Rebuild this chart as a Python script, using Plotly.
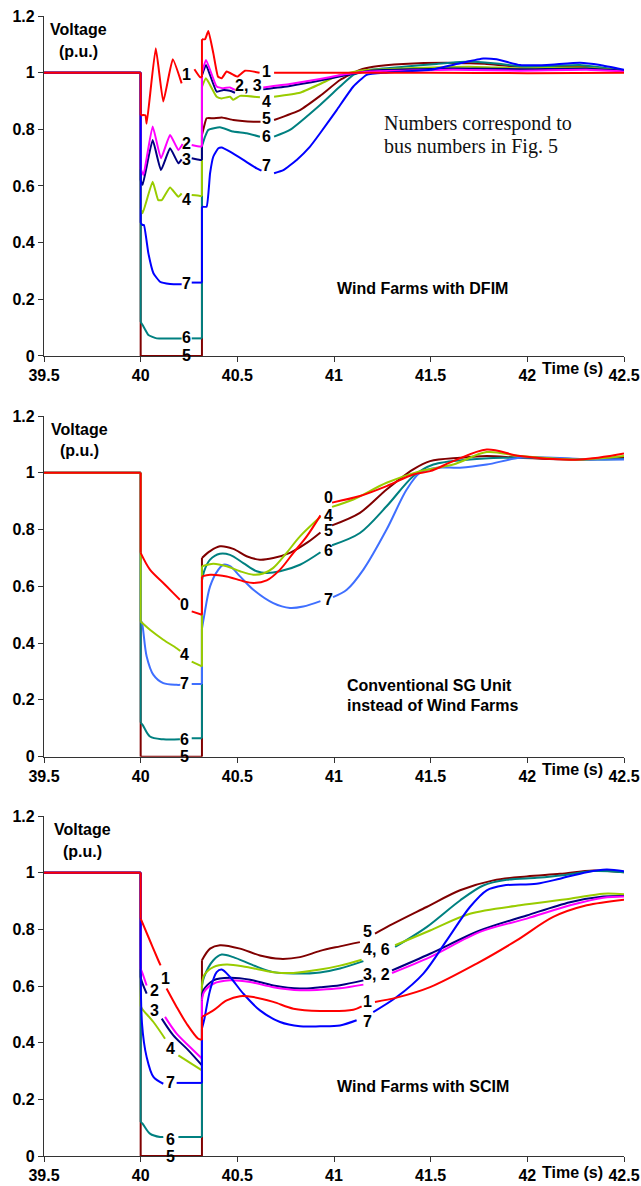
import plotly.graph_objects as go

# ---------------- Panel 1 : Wind Farms with DFIM ----------------
dfim_t1 = [39.5, 40.0, 40.0, 40.024, 40.031, 40.078, 40.117, 40.166, 40.212, None, 40.278, 40.307, 40.317, 40.317, 40.333, 40.35, 40.376, 40.40, 40.419, 40.445, 40.48, 40.5, 40.54, 40.615, None, 40.69, 41.0, 41.5, 42.0, 42.5]
dfim_v1 = [1.0, 1.0, 0.85, 0.85, 0.82, 1.086, 0.898, 1.047, 0.962, None, 1.012, 0.984, 0.984, 1.118, 1.118, 1.147, 1.068, 0.986, 0.98, 1.004, 0.992, 0.986, 1.007, 1.0, None, 1.0, 1.0, 1.0, 0.998, 1.0]
dfim_t2 = [39.5, 40.0, 40.0, 40.014, 40.062, 40.105, 40.152, 40.195, 40.217, None, 40.264, 40.307, 40.317, 40.317, 40.338, 40.393, 40.428, 40.462, 40.488, None, 40.634, 40.772, 40.928, 41.066, 41.186, 41.617, 41.962, 42.307, 42.5]
dfim_v2 = [1.0, 1.0, 0.66, 0.639, 0.81, 0.698, 0.78, 0.727, 0.748, None, 0.745, 0.739, 0.739, 1.0, 1.045, 0.951, 0.945, 0.948, 0.939, None, 0.948, 0.96, 0.978, 0.995, 1.004, 1.01, 1.007, 1.01, 1.004]
dfim_t3 = [39.5, 40.0, 40.0, 40.01, 40.062, 40.105, 40.152, 40.195, 40.212, None, 40.264, 40.307, 40.317, 40.317, 40.338, 40.393, 40.428, 40.462, 40.488, None, 40.634, 40.772, 40.928, 41.066, 41.186, 41.617, 41.962, 42.307, 42.5]
dfim_v3 = [1.0, 1.0, 0.62, 0.604, 0.762, 0.656, 0.733, 0.68, 0.694, None, 0.698, 0.692, 0.692, 0.99, 1.027, 0.933, 0.939, 0.936, 0.929, None, 0.941, 0.953, 0.972, 0.992, 1.007, 1.015, 1.012, 1.015, 1.007]
dfim_t4 = [39.5, 40.0, 40.0, 40.01, 40.062, 40.091, 40.109, 40.152, 40.195, 40.212, None, 40.264, 40.307, 40.317, 40.317, 40.338, 40.393, 40.419, 40.462, 40.479, 40.514, 40.617, None, 40.69, 40.824, 40.928, 41.031, 41.134, 41.359, 41.703, 41.962, 42.272, 42.5]
dfim_v4 = [1.0, 1.0, 0.52, 0.504, 0.615, 0.55, 0.55, 0.595, 0.562, 0.574, None, 0.568, 0.565, 0.565, 0.95, 0.98, 0.915, 0.909, 0.915, 0.904, 0.918, 0.913, None, 0.915, 0.929, 0.96, 0.992, 1.007, 1.015, 1.021, 1.015, 1.018, 1.007]
dfim_t5 = [39.5, 40.0, 40.0, 40.317, 40.317, 40.328, 40.341, 40.376, 40.419, 40.479, 40.583, 40.62, None, 40.69, 40.824, 40.928, 41.031, 41.134, 41.203, 41.359, 41.583, 41.703, 41.79, 41.962, 42.272, 42.5]
dfim_v5 = [1.0, 1.0, 0.0, 0.0, 0.78, 0.81, 0.839, 0.839, 0.842, 0.833, 0.827, 0.827, None, 0.833, 0.868, 0.918, 0.974, 1.01, 1.021, 1.031, 1.035, 1.033, 1.031, 1.021, 1.023, 1.007]
dfim_t6 = [39.5, 40.0, 40.0, 40.01, 40.04, 40.083, 40.212, None, 40.264, 40.317, 40.317, 40.333, 40.35, 40.41, 40.479, 40.548, 40.617, None, 40.69, 40.772, 40.928, 41.031, 41.1, 41.186, 41.359, 41.531, 41.703, 41.824, 41.997, 42.272, 42.5]
dfim_v6 = [1.0, 1.0, 0.12, 0.109, 0.074, 0.062, 0.062, None, 0.062, 0.062, 0.74, 0.774, 0.798, 0.807, 0.792, 0.786, 0.774, None, 0.774, 0.798, 0.886, 0.951, 0.992, 1.01, 1.021, 1.031, 1.039, 1.033, 1.021, 1.027, 1.007]
dfim_t7 = [39.5, 40.0, 40.0, 40.01, 40.017, 40.04, 40.066, 40.1, 40.152, 40.212, None, 40.264, 40.317, 40.317, 40.341, 40.359, 40.376, 40.402, 40.419, 40.462, 40.531, 40.6, 40.625, None, 40.69, 40.738, 40.807, 40.876, 40.928, 41.014, 41.1, 41.169, 41.27, 41.497, 41.652, 41.772, 41.841, 41.962, 42.1, 42.272, 42.376, 42.5]
dfim_v7 = [1.0, 1.0, 0.47, 0.462, 0.462, 0.362, 0.292, 0.262, 0.254, 0.253, None, 0.259, 0.259, 0.527, 0.527, 0.645, 0.704, 0.733, 0.736, 0.721, 0.692, 0.662, 0.654, None, 0.645, 0.656, 0.692, 0.739, 0.786, 0.868, 0.951, 0.992, 1.0, 1.01, 1.033, 1.05, 1.047, 1.027, 1.027, 1.035, 1.027, 1.01]

# ---------------- Panel 2 : Conventional SG unit ----------------
sg_t0 = [39.5, 40.0, 40.0, 40.048, 40.117, 40.169, 40.203, None, 40.264, 40.317, 40.317, 40.359, 40.445, 40.531, 40.583, 40.652, 40.721, 40.79, 40.859, 40.93, None, 40.99, 41.134, 41.272, 41.41, 41.497, 41.617, 41.79, 41.962, 42.272, 42.5]
sg_v0 = [1.0, 1.0, 0.718, 0.659, 0.612, 0.576, 0.553, None, 0.512, 0.5, 0.635, 0.641, 0.635, 0.618, 0.612, 0.621, 0.659, 0.718, 0.776, 0.85, None, 0.895, 0.918, 0.953, 0.994, 1.006, 1.041, 1.082, 1.059, 1.047, 1.068]
sg_t4 = [39.5, 40.0, 40.0, 40.048, 40.117, 40.186, 40.205, None, 40.264, 40.317, 40.317, 40.376, 40.445, 40.514, 40.583, 40.634, 40.686, 40.755, 40.824, 40.93, None, 40.99, 41.1, 41.272, 41.445, 41.617, 41.79, 41.962, 42.272, 42.5]
sg_v4 = [1.0, 1.0, 0.476, 0.447, 0.412, 0.382, 0.372, None, 0.335, 0.318, 0.671, 0.68, 0.671, 0.653, 0.641, 0.645, 0.665, 0.718, 0.776, 0.845, None, 0.88, 0.906, 0.965, 1.006, 1.029, 1.073, 1.059, 1.047, 1.059]
sg_t5 = [39.5, 40.0, 40.0, 40.317, 40.317, 40.359, 40.41, 40.479, 40.548, 40.617, 40.686, 40.772, 40.859, 40.93, None, 40.99, 41.134, 41.272, 41.41, 41.497, 41.652, 41.79, 41.962, 42.272, 42.5]
sg_v5 = [1.0, 1.0, 0.0, 0.0, 0.7, 0.724, 0.741, 0.732, 0.706, 0.694, 0.7, 0.718, 0.753, 0.79, None, 0.815, 0.859, 0.941, 1.012, 1.041, 1.053, 1.059, 1.053, 1.047, 1.053]
sg_t6 = [39.5, 40.0, 40.0, 40.01, 40.048, 40.117, 40.203, None, 40.264, 40.317, 40.317, 40.328, 40.359, 40.41, 40.462, 40.531, 40.6, 40.652, 40.721, 40.824, 40.93, None, 40.99, 41.134, 41.272, 41.41, 41.514, 41.703, 41.876, 42.048, 42.307, 42.5]
sg_v6 = [1.0, 1.0, 0.12, 0.112, 0.071, 0.061, 0.061, None, 0.065, 0.065, 0.62, 0.653, 0.694, 0.715, 0.711, 0.682, 0.653, 0.647, 0.653, 0.676, 0.72, None, 0.745, 0.788, 0.882, 0.988, 1.029, 1.047, 1.053, 1.053, 1.047, 1.049]
sg_t7 = [39.5, 40.0, 40.0, 40.007, 40.031, 40.066, 40.117, 40.186, 40.205, None, 40.264, 40.317, 40.317, 40.328, 40.359, 40.402, 40.428, 40.462, 40.514, 40.583, 40.686, 40.772, 40.841, 40.93, None, 40.995, 41.066, 41.152, 41.272, 41.376, 41.445, 41.531, 41.652, 41.79, 41.962, 42.134, 42.307, 42.5]
sg_v7 = [1.0, 1.0, 0.48, 0.471, 0.353, 0.288, 0.259, 0.253, 0.253, None, 0.256, 0.256, 0.45, 0.494, 0.6, 0.659, 0.676, 0.671, 0.635, 0.588, 0.541, 0.524, 0.529, 0.548, None, 0.562, 0.588, 0.659, 0.8, 0.941, 1.0, 1.018, 1.018, 1.029, 1.053, 1.053, 1.047, 1.047]

# ---------------- Panel 3 : Wind Farms with SCIM ----------------
scim_t1 = [39.5, 40.0, 40.0, 40.04, 40.091, 40.103, None, 40.134, 40.186, 40.238, 40.298, 40.317, 40.317, 40.376, 40.445, 40.514, 40.583, 40.686, 40.79, 40.928, 41.1, 41.143, None, 41.212, 41.324, 41.497, 41.738, 41.945, 42.134, 42.307, 42.5]
scim_v1 = [1.0, 1.0, 0.838, 0.773, 0.691, 0.673, None, 0.591, 0.526, 0.467, 0.414, 0.41, 0.491, 0.514, 0.549, 0.564, 0.561, 0.544, 0.52, 0.512, 0.516, 0.528, None, 0.544, 0.559, 0.596, 0.679, 0.761, 0.844, 0.885, 0.905]
scim_t2 = [39.5, 40.0, 40.0, 40.007, 40.031, None, 40.126, 40.186, 40.255, 40.317, 40.317, 40.328, 40.376, 40.462, 40.566, 40.686, 40.824, 40.928, 41.031, 41.152, None, 41.3, 41.497, 41.755, 41.997, 42.221, 42.393, 42.5]
scim_v2 = [1.0, 1.0, 0.66, 0.649, 0.602, None, 0.491, 0.432, 0.385, 0.344, 0.55, 0.579, 0.608, 0.62, 0.614, 0.596, 0.585, 0.587, 0.592, 0.605, None, 0.646, 0.702, 0.791, 0.838, 0.885, 0.912, 0.916]
scim_t3 = [39.5, 40.0, 40.0, 40.007, 40.031, None, 40.109, 40.169, 40.247, 40.317, 40.317, 40.324, 40.376, 40.462, 40.566, 40.686, 40.824, 40.928, 41.031, 41.152, None, 41.3, 41.497, 41.755, 41.997, 42.221, 42.393, 42.5]
scim_v3 = [1.0, 1.0, 0.63, 0.614, 0.573, None, 0.485, 0.426, 0.373, 0.32, 0.56, 0.585, 0.62, 0.629, 0.622, 0.602, 0.591, 0.596, 0.603, 0.62, None, 0.655, 0.714, 0.796, 0.849, 0.896, 0.916, 0.918]
scim_t4 = [39.5, 40.0, 40.0, 40.007, 40.066, 40.126, None, 40.195, 40.317, 40.317, 40.328, 40.376, 40.445, 40.548, 40.686, 40.79, 40.928, 41.031, 41.143, None, 41.316, 41.497, 41.703, 41.962, 42.221, 42.393, 42.5]
scim_v4 = [1.0, 1.0, 0.53, 0.52, 0.473, 0.414, None, 0.355, 0.302, 0.6, 0.638, 0.667, 0.676, 0.667, 0.649, 0.646, 0.658, 0.672, 0.693, None, 0.744, 0.796, 0.855, 0.885, 0.908, 0.926, 0.924]
scim_t5 = [39.5, 40.0, 40.0, 40.317, 40.317, 40.359, 40.41, 40.514, 40.617, 40.721, 40.824, 40.928, 41.031, 41.134, None, 41.212, 41.307, 41.479, 41.652, 41.824, 41.997, 42.169, 42.341, 42.5]
scim_v5 = [1.0, 1.0, 0.0, 0.0, 0.691, 0.732, 0.744, 0.732, 0.708, 0.696, 0.702, 0.724, 0.74, 0.755, None, 0.785, 0.82, 0.879, 0.938, 0.973, 0.987, 0.996, 1.008, 1.002]
scim_t6 = [39.5, 40.0, 40.0, 40.01, 40.048, 40.1, 40.117, None, 40.195, 40.317, 40.317, 40.328, 40.376, 40.419, 40.479, 40.583, 40.686, 40.79, 40.928, 41.031, 41.152, None, 41.316, 41.479, 41.652, 41.772, 41.893, 42.048, 42.186, 42.341, 42.5]
scim_v6 = [1.0, 1.0, 0.12, 0.114, 0.079, 0.067, 0.067, None, 0.067, 0.067, 0.6, 0.632, 0.691, 0.711, 0.702, 0.673, 0.649, 0.644, 0.648, 0.662, 0.688, None, 0.738, 0.808, 0.902, 0.955, 0.975, 0.982, 0.991, 1.006, 1.002]
scim_t7 = [39.5, 40.0, 40.0, 40.007, 40.031, 40.066, 40.117, None, 40.186, 40.317, 40.317, 40.328, 40.359, 40.393, 40.419, 40.462, 40.531, 40.617, 40.721, 40.824, 40.928, 41.031, 41.117, None, 41.203, 41.324, 41.462, 41.583, 41.703, 41.79, 41.876, 42.048, 42.169, 42.307, 42.41, 42.5]
scim_v7 = [1.0, 1.0, 0.84, 0.467, 0.349, 0.279, 0.255, None, 0.258, 0.258, 0.45, 0.479, 0.585, 0.649, 0.658, 0.632, 0.573, 0.514, 0.473, 0.458, 0.458, 0.461, 0.479, None, 0.508, 0.561, 0.644, 0.761, 0.879, 0.938, 0.955, 0.961, 0.979, 1.002, 1.011, 1.005]

# curve labels (text, time, voltage)
dfim_labels = [("1", 40.238, 0.992), ("2", 40.238, 0.751), ("3", 40.238, 0.692), ("4", 40.238, 0.554),
               ("7", 40.238, 0.256), ("6", 40.238, 0.066), ("5", 40.238, 0.0),
               ("1", 40.652, 1.004), ("2, 3", 40.557, 0.956), ("4", 40.652, 0.898),
               ("5", 40.652, 0.839), ("6", 40.652, 0.774), ("7", 40.652, 0.671)]
sg_labels = [("0", 40.229, 0.535), ("4", 40.229, 0.359), ("7", 40.229, 0.259), ("6", 40.229, 0.059),
             ("5", 40.229, 0.0), ("0", 40.971, 0.912), ("4", 40.971, 0.848), ("5", 40.971, 0.795),
             ("6", 40.971, 0.726), ("7", 40.971, 0.555)]
scim_labels = [("1", 40.129, 0.626), ("2", 40.074, 0.585), ("3", 40.074, 0.514), ("4", 40.152, 0.381),
               ("7", 40.152, 0.258), ("6", 40.152, 0.059), ("5", 40.152, 0.0),
               ("5", 41.174, 0.794), ("4, 6", 41.22, 0.728), ("3, 2", 41.22, 0.64),
               ("1", 41.174, 0.544), ("7", 41.174, 0.476)]

x_ticks = [39.5, 40, 40.5, 41, 41.5, 42, 42.5]
y_ticks = [0, 0.2, 0.4, 0.6, 0.8, 1.0, 1.2]

RED, MAG, NAVY, GRN, DRED, TEAL, BLUE, LBLUE = "#FF0000", "#FF00FF", "#000080", "#99CC00", "#800000", "#008080", "#0000FF", "#3F6FFF"

fig = go.Figure()


def add(t, v, color, ax, smooth):
    """Smooth runs drawn as splines; the instantaneous jumps (equal times) drawn straight."""
    st, sv, jt, jv = [], [], [], []
    for i in range(len(t)):
        st.append(t[i]); sv.append(v[i])
        if i + 1 < len(t) and t[i] is not None and t[i + 1] is not None and t[i] == t[i + 1]:
            st.append(None); sv.append(None)
            jt += [t[i], t[i + 1], None]; jv += [v[i], v[i + 1], None]
    common = dict(mode="lines", connectgaps=False, showlegend=False, hoverinfo="skip",
                  xaxis="x" + ax, yaxis="y" + ax)
    fig.add_trace(go.Scatter(x=jt, y=jv, line=dict(color=color, width=2), **common))
    fig.add_trace(go.Scatter(x=st, y=sv, line=dict(color=color, width=2, shape="spline", smoothing=smooth), **common))


# draw order bottom -> top: 5, 6, 4, 3, 2, 7, 1
S1 = 0.4
add(dfim_t5, dfim_v5, DRED, "", S1)
add(dfim_t6, dfim_v6, TEAL, "", S1)
add(dfim_t4, dfim_v4, GRN, "", S1)
add(dfim_t3, dfim_v3, NAVY, "", S1)
add(dfim_t2, dfim_v2, MAG, "", S1)
add(dfim_t7, dfim_v7, BLUE, "", S1)
add(dfim_t1, dfim_v1, RED, "", S1)

S2 = 0.9
add(sg_t5, sg_v5, DRED, "2", S2)
add(sg_t6, sg_v6, TEAL, "2", S2)
add(sg_t7, sg_v7, LBLUE, "2", S2)
add(sg_t4, sg_v4, GRN, "2", S2)
add(sg_t0, sg_v0, RED, "2", S2)

add(scim_t5, scim_v5, DRED, "3", S2)
add(scim_t6, scim_v6, TEAL, "3", S2)
add(scim_t4, scim_v4, GRN, "3", S2)
add(scim_t3, scim_v3, NAVY, "3", S2)
add(scim_t2, scim_v2, MAG, "3", S2)
add(scim_t7, scim_v7, BLUE, "3", S2)
add(scim_t1, scim_v1, RED, "3", S2)

FONT = "Liberation Sans, Arial, sans-serif"
BOLD = dict(family=FONT, size=16, color="#000000", weight="bold")

axis_common = dict(showline=True, linecolor="#333333", linewidth=1.3, ticks="outside",
                   ticklen=5, tickwidth=1.3, tickcolor="#333333", showgrid=False,
                   zeroline=False, tickfont=BOLD, automargin=False)

domains = {"": [0.7018, 1.0], "2": [0.3503, 0.6491], "3": [0.0, 0.2982]}
layout = dict(width=641, height=1186, margin=dict(l=44, r=17, t=16, b=30),
              paper_bgcolor="white", plot_bgcolor="white", showlegend=False)
for ax, dom in domains.items():
    layout["xaxis" + ax] = dict(axis_common, range=[39.5, 42.5], tickvals=x_ticks,
                                ticktext=[f"{v:g}" for v in x_ticks], anchor="y" + ax, domain=[0, 1])
    layout["yaxis" + ax] = dict(axis_common, range=[0, 1.2], tickvals=y_ticks,
                                ticktext=[f"{v:g}" for v in y_ticks], anchor="x" + ax, domain=dom)
fig.update_layout(**layout)

ann = []


def label(text, t, v, ax, **kw):
    d = dict(text=text, x=t, y=v, xref="x" + ax, yref="y" + ax, showarrow=False, font=BOLD)
    d.update(kw)
    ann.append(d)


for txt, t, v in dfim_labels:
    label(txt, t, v, "")
for txt, t, v in sg_labels:
    label(txt, t, v, "2")
for txt, t, v in scim_labels:
    label(txt, t, v, "3")

for ax, tc, v1, v2, ys in [("", 39.676, 1.151, 1.073, -13), ("2", 39.686, 1.153, 1.077, -13),
                           ("3", 39.70, 1.152, 1.075, -16)]:
    label("Voltage", tc, v1, ax)
    label("(p.u.)", tc, v2, ax)
    ann.append(dict(text="Time (s)", x=42.236, y=0, xref="x" + ax, yref=("y" + ax) + " domain",
                    yanchor="middle", yshift=ys, showarrow=False, font=BOLD))

label("Wind Farms with DFIM", 41.005, 0.238, "", xanchor="left")
label("Conventional SG Unit", 41.057, 0.25, "2", xanchor="left")
label("instead of Wind Farms", 41.057, 0.179, "2", xanchor="left")
label("Wind Farms with SCIM", 41.005, 0.247, "3", xanchor="left")

SERIF = dict(family="Liberation Serif, Times New Roman, serif", size=20, color="#111111")
label("Numbers correspond to", 41.247, 0.822, "", xanchor="left", font=SERIF)
label("bus numbers in Fig. 5", 41.247, 0.738, "", xanchor="left", font=SERIF)

fig.update_layout(annotations=ann)
fig.write_html("out.html")
